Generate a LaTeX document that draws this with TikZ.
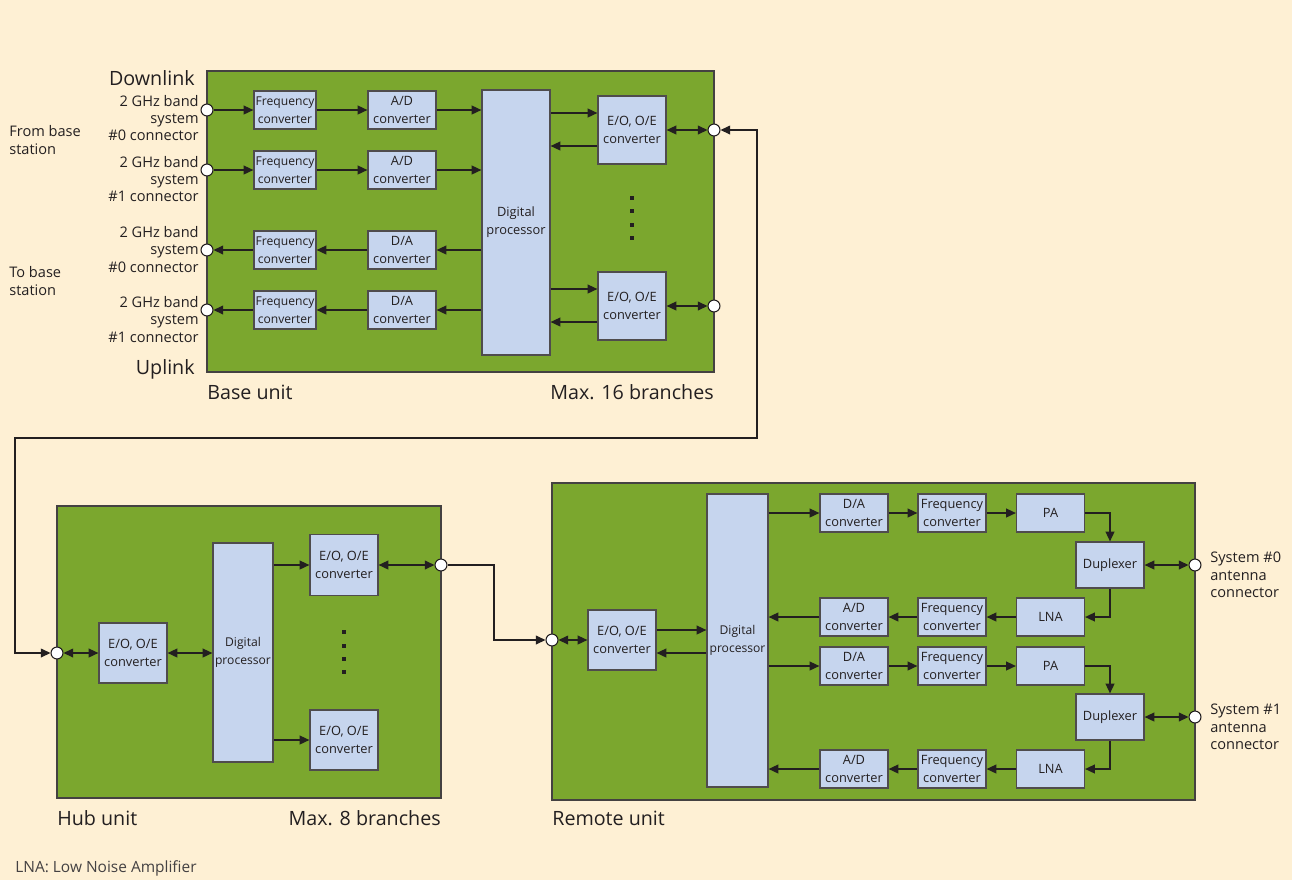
\documentclass[tikz,border=0pt]{standalone}
\usepackage{fontspec}
\setmainfont{Open Sans}
\usetikzlibrary{arrows.meta, positioning, calc}
\definecolor{cream1}{RGB}{254,240,212}
\definecolor{green1}{RGB}{123,167,46}
\definecolor{blue1}{RGB}{198,213,238}
\definecolor{ink1}{RGB}{35,31,32}

\tikzset{
  unit/.style={draw=ink1!85, fill=green1, line width=0.7pt},
  blk/.style={draw=ink1!80, fill=blue1, line width=0.7pt, align=center, inner sep=0pt,
    text=ink1, font=\fontsize{7.3}{10.2}\selectfont},
  conv/.style={blk, minimum width=1.36cm, minimum height=0.76cm},
  fconv/.style={blk, minimum width=1.24cm, minimum height=0.76cm, font=\fontsize{6.9}{10.2}\selectfont},
  eo/.style={blk, minimum width=1.36cm, minimum height=1.36cm},
  dup/.style={blk, minimum width=1.36cm, minimum height=0.92cm},
  dsp/.style={blk, font=\fontsize{6.9}{10.2}\selectfont},
  port/.style={circle, draw=ink1, fill=white, inner sep=0pt, minimum size=6.8pt, line width=0.6pt},
  arr/.style={draw=ink1, line width=0.75pt, -{Triangle[length=5.5pt,width=5pt]}},
  arr2/.style={draw=ink1, line width=0.75pt, {Triangle[length=5.5pt,width=5pt]}-{Triangle[length=5.5pt,width=5pt]}},
  lbl/.style={inner sep=0pt, text=ink1, font=\fontsize{8.3}{9.9}\selectfont},
  head/.style={inner sep=0pt, text=ink1, font=\fontsize{11.2}{12}\selectfont},
}

\begin{document}
\begin{tikzpicture}[x=0.02cm, y=-0.02cm]
  \fill[cream1] (0,0) rectangle (1292,880);
  \useasboundingbox (0,0) rectangle (1292,880);

  % ---- base unit ----
  \draw[unit] (207,71) rectangle (714,372);
  \node[head, anchor=east] (dl) at (195,78) {Downlink};
  \node[head, anchor=east] (ul) at (195,369) {Uplink};
  \node[head, anchor=west] (bu) at (207,392) {Base unit};
  \node[head, anchor=east] (bmax) at (714,392) {Max. 16 branches};

  \node[lbl, anchor=east, align=right] (bl0) at (199,118) {2 GHz band\\system\\\#0 connector};
  \node[lbl, anchor=east, align=right] (bl1) at (199,179) {2 GHz band\\system\\\#1 connector};
  \node[lbl, anchor=east, align=right] (bl2) at (199,249.5) {2 GHz band\\system\\\#0 connector};
  \node[lbl, anchor=east, align=right] (bl3) at (199,319.5) {2 GHz band\\system\\\#1 connector};
  \node[lbl, anchor=west, align=left] (from) at (9,140) {From base\\station};
  \node[lbl, anchor=west, align=left] (to) at (9,281) {To base\\station};

  \node[blk, minimum width=1.36cm, minimum height=5.3cm] (bdp) at (516,222.5) {Digital\\processor};
  \foreach \i/\y in {0/110,1/170} {
    \node[port] (bi\i) at (207,\y) {};
    \node[fconv] (bf\i) at (285,\y) {Frequency\\converter};
    \node[conv] (bc\i) at (402,\y) {A/D\\converter};
    \draw[arr] (bi\i) -- (bf\i);
    \draw[arr] (bf\i) -- (bc\i);
    \draw[arr] (bc\i) -- (bdp.west |- bc\i);
  }
  \foreach \i/\y in {2/250,3/310} {
    \node[port] (bi\i) at (207,\y) {};
    \node[fconv] (bf\i) at (285,\y) {Frequency\\converter};
    \node[conv] (bc\i) at (402,\y) {D/A\\converter};
    \draw[arr] (bdp.west |- bc\i) -- (bc\i);
    \draw[arr] (bc\i) -- (bf\i);
    \draw[arr] (bf\i) -- (bi\i);
  }
  \foreach \i/\y/\ya/\yb in {0/130/113/146, 1/306/289/322} {
    \node[eo] (be\i) at (632,\y) {E/O, O/E\\converter};
    \node[port] (bo\i) at (714,\y) {};
    \draw[arr] (bdp.east |- 0,\ya) -- (be\i.west |- 0,\ya);
    \draw[arr] (be\i.west |- 0,\yb) -- (bdp.east |- 0,\yb);
    \draw[arr2] (be\i) -- (bo\i);
  }
  \foreach \y in {198,211,225,238}
    \fill[ink1] (630,\y-2) rectangle ++(4,4);

  % ---- hub unit ----
  \draw[unit] (57,506) rectangle (441,798);
  \node[head, anchor=west] (hu) at (57,818) {Hub unit};
  \node[head, anchor=east] (hmax) at (441,818) {Max. 8 branches};
  \node[port] (hi) at (57,653) {};
  \node[eo, minimum height=1.2cm] (he) at (133,653) {E/O, O/E\\converter};
  \node[dsp, minimum width=1.2cm, minimum height=4.38cm] (hdp) at (243,652.5) {Digital\\processor};
  \node[eo, minimum height=1.22cm] (he0) at (344,565) {E/O, O/E\\converter};
  \node[eo, minimum height=1.2cm] (he1) at (344,740) {E/O, O/E\\converter};
  \node[port] (ho) at (441,565) {};
  \draw[arr2] (hi) -- (he);
  \draw[arr2] (he) -- (hdp.west |- he);
  \draw[arr] (hdp.east |- he0) -- (he0);
  \draw[arr] (hdp.east |- he1) -- (he1);
  \draw[arr2] (he0) -- (ho);
  \foreach \y in {632,646,659,672}
    \fill[ink1] (342,\y-2) rectangle ++(4,4);

  % ---- remote unit ----
  \draw[unit] (552,483) rectangle (1195,800);
  \node[head, anchor=west] (ru) at (552,818) {Remote unit};
  \node[port] (ri) at (552,640) {};
  \node[eo, minimum height=1.2cm] (re) at (622,640) {E/O, O/E\\converter};
  \node[dsp, minimum width=1.22cm, minimum height=5.86cm] (rdp) at (737.5,640.5) {Digital\\processor};
  \draw[arr2] (ri) -- (re);
  \draw[arr] (re.east |- 0,630) -- (rdp.west |- 0,630);
  \draw[arr] (rdp.west |- 0,653) -- (re.east |- 0,653);
  \foreach \i/\ya/\yb/\yd in {0/513/617/565, 1/666/769/717} {
    \node[conv] (rda\i) at (854,\ya) {D/A\\converter};
    \node[conv] (rft\i) at (952,\ya) {Frequency\\converter};
    \node[conv] (rpa\i) at (1050.5,\ya) {PA};
    \node[dup] (rdx\i) at (1110,\yd) {Duplexer};
    \node[conv] (rln\i) at (1050.5,\yb) {LNA};
    \node[conv] (rfr\i) at (952,\yb) {Frequency\\converter};
    \node[conv] (rad\i) at (854,\yb) {A/D\\converter};
    \node[port] (rant\i) at (1195,\yd) {};
    \node[lbl, anchor=west, align=left] (rl\i) at (1210,\yd+10) {System \#\i\\antenna\\connector};
    \draw[arr] (rdp.east |- rda\i) -- (rda\i);
    \draw[arr] (rda\i) -- (rft\i);
    \draw[arr] (rft\i) -- (rpa\i);
    \draw[arr] (rpa\i) -| (rdx\i);
    \draw[arr2] (rdx\i) -- (rant\i);
    \draw[arr] (rdx\i) |- (rln\i);
    \draw[arr] (rln\i) -- (rfr\i);
    \draw[arr] (rfr\i) -- (rad\i);
    \draw[arr] (rad\i) -- (rdp.east |- rad\i);
  }

  % ---- links between units ----
  \draw[arr2] (bo0) -| (757,438) -| (15,653) -- (hi);
  \draw[arr] (ho) -| (494,640) -- (ri);

  \node[lbl, anchor=west, font=\fontsize{8.8}{10}\selectfont, text=ink1!85] (note) at (15,868) {LNA: Low Noise Amplifier};
\end{tikzpicture}
\end{document}
